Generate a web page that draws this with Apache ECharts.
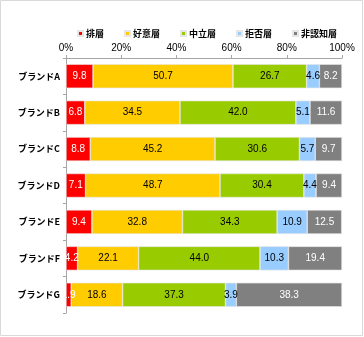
<!DOCTYPE html>
<html><head><meta charset="utf-8">
<script src="https://cdn.jsdelivr.net/npm/echarts@6/dist/echarts.min.js"></script>
<style>html,body{margin:0;padding:0;background:#fff}#c{width:364px;height:337px}</style>
</head><body><div id="c"></div>
<script>
const categories = ['ブランドA','ブランドB','ブランドC','ブランドD','ブランドE','ブランドF','ブランドG'];
const seriesNames = ['排層','好意層','中立層','拒否層','非認知層'];
const s1 = [9.8, 6.8, 8.8, 7.1, 9.4, 4.2, 1.9];
const s2 = [50.7, 34.5, 45.2, 48.7, 32.8, 22.1, 18.6];
const s3 = [26.7, 42.0, 30.6, 30.4, 34.3, 44.0, 37.3];
const s4 = [4.6, 5.1, 5.7, 4.4, 10.9, 10.3, 3.9];
const s5 = [8.2, 11.6, 9.7, 9.4, 12.5, 19.4, 38.3];
const colors = ['#ff0000','#ffcc00','#99cc00','#99ccff','#808080'];
const labelColors = ['#fff','#000','#000','#000','#fff'];
const data = [s1,s2,s3,s4,s5];
const chart = echarts.init(document.getElementById('c'));
const FONT = '"Liberation Sans Narrow","Liberation Sans",Arial,sans-serif';
const JP = '"Noto Sans CJK JP",sans-serif';
chart.setOption({
  animation:false,
  backgroundColor:'#fff',
  graphic:[{type:'rect',shape:{x:0.5,y:0.5,width:362,height:335},style:{fill:'none',stroke:'#d9d9d9',lineWidth:1},z:-1}],
  legend:{
    top:24, left:72, itemGap:20, itemWidth:5, itemHeight:5, icon:'rect',
    textStyle:{fontSize:9, fontWeight:'bold', color:'#000', fontFamily:JP, padding:[0,0,0,-2]},
    data:seriesNames
  },
  grid:{left:66, right:22, top:58, bottom:24},
  xAxis:{
    type:'value', position:'top', min:0, max:100, interval:20,
    axisLine:{show:true, lineStyle:{color:'#a6a6a6'}},
    axisTick:{show:true, length:3, lineStyle:{color:'#a6a6a6'}},
    splitLine:{show:false},
    axisLabel:{formatter:'{value}%', fontSize:10, color:'#000', margin:5, fontFamily:FONT}
  },
  yAxis:{
    type:'category', inverse:true, data:categories,
    axisLine:{show:true, lineStyle:{color:'#a6a6a6'}},
    axisTick:{show:true, length:3, lineStyle:{color:'#a6a6a6'}},
    axisLabel:{fontSize:9, color:'#000', fontWeight:'bold', margin:6, fontFamily:JP}
  },
  series: data.map((d,i)=>({
    name:seriesNames[i], type:'bar', stack:'t', data:d, barWidth:'66%',
    itemStyle:{color:colors[i], borderColor:'#e6e6e6', borderWidth:0.6},
    label:{show:true, position:'inside', color:labelColors[i], fontSize:10, fontFamily:FONT,
      formatter:p=>p.value.toFixed(1)}
  }))
});
</script></body></html>
